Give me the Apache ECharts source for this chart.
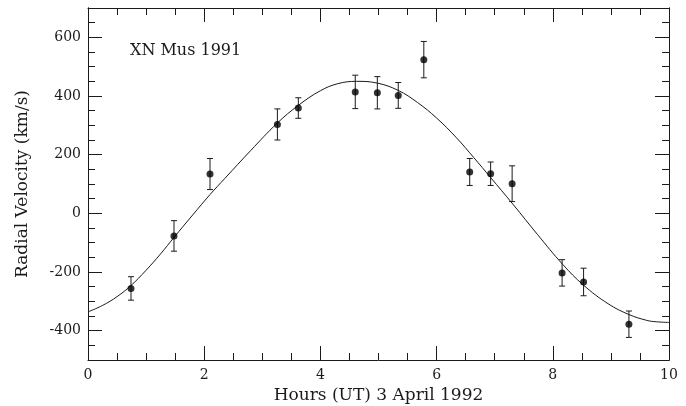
<!DOCTYPE html>
<html>
<head>
<meta charset="utf-8">
<script src="https://cdn.jsdelivr.net/npm/echarts@6/dist/echarts.min.js"></script>
<style>
  html, body { margin: 0; padding: 0; background: #fff; }
  #chart { width: 686px; height: 406px; }
</style>
</head>
<body>
<div id="chart"></div>
<script>
// Observed radial velocities (hours UT, km/s, 1-sigma error)
var obsHours = [0.74, 1.48, 2.10, 3.26, 3.62, 4.60, 4.98, 5.34, 5.78, 6.57, 6.93, 7.30, 8.16, 8.53, 9.31];
var obsVel   = [-256, -77, 134, 303, 359, 414, 411, 402, 524, 141, 135, 101, -203, -234, -378];
var obsErr   = [40, 52, 53, 53, 35, 57, 55, 44, 62, 46, 40, 61, 45, 47, 45];

// Fitted curve
var curveHours = [0, 0.25, 0.5, 0.74, 1.0, 1.25, 1.48, 1.8, 2.1, 2.36, 2.8, 3.26, 3.62, 4.0, 4.3, 4.62, 4.98, 5.34, 5.67, 6.0, 6.34, 6.64, 6.93, 7.31, 7.74, 8.17, 8.53, 8.95, 9.31, 9.6, 9.74, 10.0];
var curveVel   = [-336, -314, -284, -246, -194, -138, -82, -6, 64, 120, 214, 308, 368, 418, 442, 450, 444, 419, 378, 325, 258, 190, 122, 32, -73, -174, -245, -308, -345, -364, -369, -372];

var yMajorTicks = [-400, -200, 0, 200, 400, 600];
var xTitle = 'Hours (UT) 3 April 1992';
var yTitle = 'Radial Velocity (km/s)';
var label = 'XN Mus 1991';

var FONT = 'DejaVu Serif';
var INK = '#1a1a1a';

var points = obsHours.map(function (h, i) { return [h, obsVel[i]]; });
var errs = obsHours.map(function (h, i) { return [h, obsVel[i] - obsErr[i], obsVel[i] + obsErr[i]]; });
var curve = curveHours.map(function (h, i) { return [h, curveVel[i]]; });

var lineStyle = { color: INK, width: 1 };

function xAx(pos, showLabel) {
  return {
    type: 'value', position: pos, min: 0, max: 10, interval: 2,
    axisLine: { show: true, onZero: false, lineStyle: lineStyle },
    axisTick: { show: true, inside: true, length: 14, lineStyle: lineStyle },
    minorTick: { show: true, splitNumber: 4, length: 7, lineStyle: lineStyle },
    splitLine: { show: false },
    axisLabel: { show: showLabel, margin: 8, fontFamily: FONT, fontSize: 14, color: INK },
    name: showLabel ? xTitle : '', nameLocation: 'middle', nameGap: 21,
    nameTextStyle: { fontFamily: FONT, fontSize: 17, color: INK }
  };
}
function yMinor(pos) {
  return {
    type: 'value', position: pos, min: -500, max: 700, interval: 50,
    axisLine: { show: true, onZero: false, lineStyle: lineStyle },
    axisTick: { show: true, inside: true, length: 7, lineStyle: lineStyle },
    splitLine: { show: false },
    axisLabel: { show: false }
  };
}
function yMajor(pos, showLabel) {
  return {
    type: 'value', position: pos, min: -500, max: 700,
    axisLine: { show: true, onZero: false, lineStyle: lineStyle },
    axisTick: { show: true, inside: true, length: 14, lineStyle: lineStyle, customValues: yMajorTicks },
    splitLine: { show: false },
    axisLabel: { show: showLabel, margin: 7, fontFamily: FONT, fontSize: 14, color: INK, customValues: yMajorTicks },
    name: showLabel ? yTitle : '', nameLocation: 'middle', nameGap: 57,
    nameTextStyle: { fontFamily: FONT, fontSize: 17, color: INK }
  };
}

var chart = echarts.init(document.getElementById('chart'), null, { renderer: 'canvas' });
chart.setOption({
  backgroundColor: '#ffffff',
  animation: false,
  grid: { left: 88, right: 17, top: 8, bottom: 46, containLabel: false, outerBoundsMode: 'none' },
  xAxis: [xAx('bottom', true), xAx('top', false)],
  yAxis: [yMinor('left'), yMajor('left', true), yMinor('right'), yMajor('right', false)],
  graphic: [{
    type: 'text', left: 130, top: 43,
    style: { text: label, fontFamily: FONT, fontSize: 16, fill: INK }
  }],
  series: [
    {
      type: 'line', xAxisIndex: 0, yAxisIndex: 1, data: curve,
      smooth: 0.4, showSymbol: false, symbol: 'none',
      lineStyle: { color: INK, width: 1 }, z: 2
    },
    {
      type: 'custom', xAxisIndex: 0, yAxisIndex: 1, data: errs, z: 3,
      renderItem: function (params, api) {
        var x = api.value(0);
        var lo = api.coord([x, api.value(1)]);
        var hi = api.coord([x, api.value(2)]);
        var c = 3;
        var st = { stroke: INK, lineWidth: 1 };
        return {
          type: 'group',
          children: [
            { type: 'line', shape: { x1: lo[0], y1: lo[1], x2: hi[0], y2: hi[1] }, style: st },
            { type: 'line', shape: { x1: lo[0] - c, y1: lo[1], x2: lo[0] + c, y2: lo[1] }, style: st },
            { type: 'line', shape: { x1: hi[0] - c, y1: hi[1], x2: hi[0] + c, y2: hi[1] }, style: st }
          ]
        };
      },
      encode: { x: 0, y: [1, 2] }
    },
    {
      type: 'scatter', xAxisIndex: 0, yAxisIndex: 1, data: points,
      symbol: 'circle', symbolSize: 7, itemStyle: { color: '#000' }, z: 4
    }
  ]
});
</script>
</body>
</html>
